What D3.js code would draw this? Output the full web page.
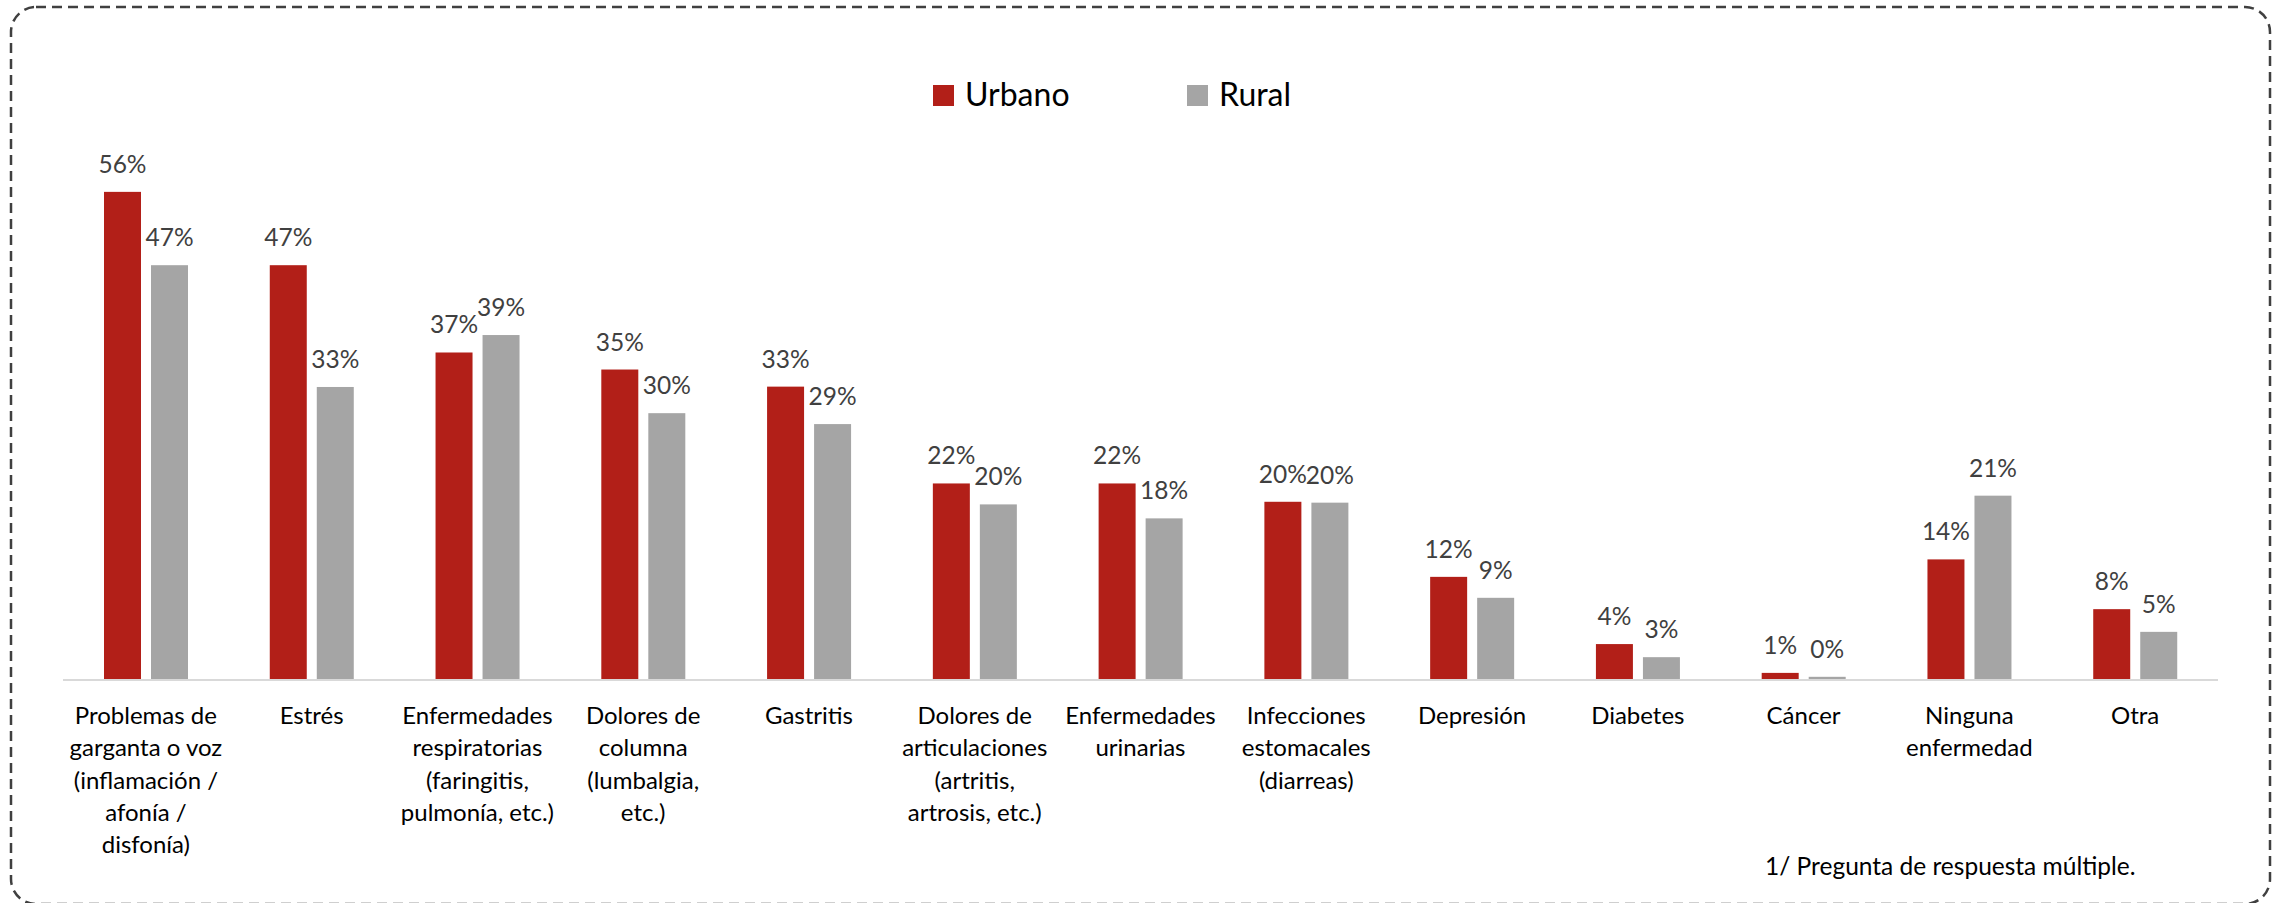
<!DOCTYPE html>
<html>
<head>
<meta charset="utf-8">
<script src="https://cdn.jsdelivr.net/npm/d3@7"></script>
<style>
  body { margin: 0; background: #fff; }
  svg text { font-family: Lato, "Open Sans", sans-serif; }
</style>
</head>
<body>
<div id="chart"></div>
<script>
// categories (one entry per line of the label)
const categories = [
    ["Problemas de", "garganta o voz", "(inflamación /", "afonía /", "disfonía)"],
    ["Estrés"],
    ["Enfermedades", "respiratorias", "(faringitis,", "pulmonía, etc.)"],
    ["Dolores de", "columna", "(lumbalgia,", "etc.)"],
    ["Gastritis"],
    ["Dolores de", "articulaciones", "(artritis,", "artrosis, etc.)"],
    ["Enfermedades", "urinarias"],
    ["Infecciones", "estomacales", "(diarreas)"],
    ["Depresión"],
    ["Diabetes"],
    ["Cáncer"],
    ["Ninguna", "enfermedad"],
    ["Otra"]
];
const series = ["Urbano", "Rural"];
const urbano = [55.8, 47.4, 37.4, 35.45, 33.49, 22.4, 22.4, 20.3, 11.7, 4.0, 0.7, 13.7, 8.0];
const rural  = [47.4, 33.45, 39.4, 30.45, 29.2, 20.0, 18.4, 20.2, 9.3, 2.5, 0.25, 21.0, 5.4];
const footnote = "1/ Pregunta de respuesta múltiple.";

function init() {
    const data = categories.map((c, i) => ({ key: c.join(" "), lines: c, Urbano: urbano[i], Rural: rural[i] }));
    createGroupedBarChart(data);
}

function createGroupedBarChart(data) {
    const width = 2277, height = 903;

    const svg = d3.select("div#chart")
        .append("svg")
        .attr("width", width)
        .attr("height", height);

    // dashed rounded frame
    svg.append("rect")
        .attr("x", 11).attr("y", 7)
        .attr("width", 2259).attr("height", 897)
        .attr("rx", 25).attr("ry", 25)
        .attr("fill", "none")
        .attr("stroke", "#404040")
        .attr("stroke-width", 2.5)
        .attr("stroke-dasharray", "10 6");

    const x0 = d3.scaleBand()
        .domain(data.map(d => d.key))
        .range([63, 2218]);

    const x1 = d3.scaleBand()
        .domain(series)
        .range([41, 125])
        .paddingInner(0.213);

    const y = d3.scaleLinear()
        .domain([0, 60])
        .range([679, 679 - 60 * 8.73]);

    const color = d3.scaleOrdinal()
        .domain(series)
        .range(["#B21F18", "#A5A5A5"]);

    // baseline
    svg.append("line")
        .attr("x1", x0.range()[0]).attr("x2", x0.range()[1])
        .attr("y1", y(0) + 1).attr("y2", y(0) + 1)
        .attr("stroke", "#D9D9D9")
        .attr("stroke-width", 2);

    const groups = svg.append("g")
        .selectAll("g")
        .data(data)
        .enter().append("g")
          .attr("transform", d => `translate(${x0(d.key)},0)`);

    groups.selectAll("rect")
        .data(d => series.map(s => ({ s, v: d[s] })))
        .enter().append("rect")
          .attr("x", d => x1(d.s))
          .attr("y", d => y(d.v))
          .attr("width", x1.bandwidth())
          .attr("height", d => y(0) - y(d.v))
          .attr("fill", d => color(d.s));

    groups.selectAll("text.val")
        .data(d => series.map(s => ({ s, v: d[s] })))
        .enter().append("text")
          .attr("class", "val")
          .attr("x", d => x1(d.s) + x1.bandwidth() / 2)
          .attr("y", d => y(d.v) - 19)
          .attr("text-anchor", "middle")
          .attr("font-size", 24.5)
          .attr("fill", "#404040")
          .text(d => Math.round(d.v) + "%");

    // category labels
    const labels = groups.append("text")
        .attr("text-anchor", "middle")
        .attr("font-size", 24)
        .attr("fill", "#000");

    labels.selectAll("tspan")
        .data(d => d.lines)
        .enter().append("tspan")
          .attr("x", x0.bandwidth() / 2)
          .attr("y", (d, i) => 724 + i * 32.3)
          .text(d => d);

    // legend
    const legendX = [933, 1187];
    const legend = svg.append("g")
        .selectAll("g")
        .data(series)
        .enter().append("g")
          .attr("transform", (d, i) => `translate(${legendX[i]},85)`);

    legend.append("rect")
        .attr("width", 21).attr("height", 21)
        .attr("fill", d => color(d));

    legend.append("text")
        .attr("x", 32).attr("y", 21)
        .attr("font-size", 32)
        .attr("fill", "#000")
        .text(d => d);

    svg.append("text")
        .attr("x", 1765).attr("y", 875)
        .attr("font-size", 24.5)
        .attr("fill", "#000")
        .text(footnote);
}

init();
</script>
</body>
</html>
